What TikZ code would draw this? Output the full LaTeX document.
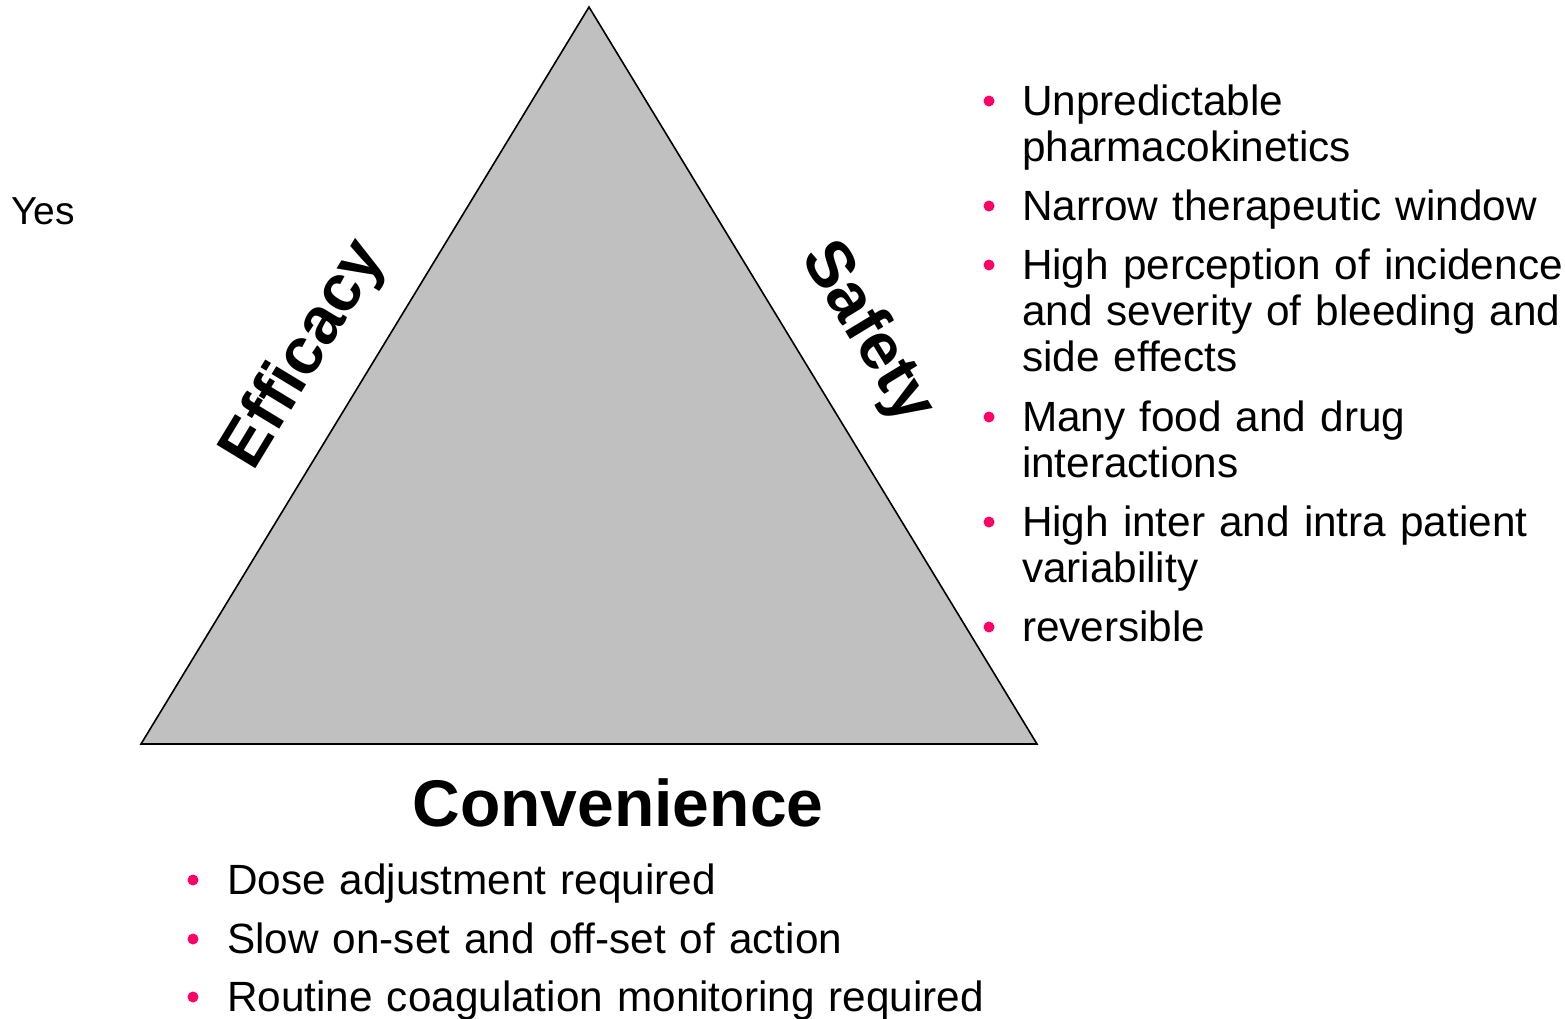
\documentclass[tikz,border=0pt]{standalone}
\usepackage{fontspec}
\setmainfont{Liberation Sans}
\definecolor{trigray}{HTML}{C0C0C0}
\definecolor{bulpink}{HTML}{FF0066}
\begin{document}
\begin{tikzpicture}[x=1pt,y=-1pt,
  item/.style={anchor=base west,inner sep=0pt,outer sep=0pt,text width=800pt,align=left,
    font=\fontsize{42.3}{46}\selectfont},
  sidelabel/.style={inner sep=0pt,font=\fontsize{66}{72}\selectfont\bfseries},
  bul/.style={fill=bulpink}]
\useasboundingbox (0,0) rectangle (1565,1018);
% triangle
\coordinate (top) at (589,7);
\coordinate (bl) at (141,744);
\coordinate (br) at (1037,744);
\draw[fill=trigray,line width=1.6pt,line join=miter] (top) -- (bl) -- (br) -- cycle;
% labels
\node[sidelabel,rotate=58.7] (eff) at (305,355) {Efficacy};
\node[sidelabel,rotate=-58.7] (saf) at (867,333) {Safety};
\node[inner sep=0pt,anchor=base,font=\fontsize{66}{70}\selectfont\bfseries] (conv) at (618,826) {Convenience};
\node[inner sep=0pt,anchor=base west,font=\fontsize{39}{44}\selectfont] (yes) at (11,224) {Yes};
% right list
\node[item] (r1) at (1022,115) {Unpredictable\\pharmacokinetics};
\node[item] (r2) at (1022,220) {Narrow therapeutic window};
\node[item] (r3) at (1022,279) {High perception of incidence\\and severity of bleeding and\\side effects};
\node[item] (r4) at (1022,431) {Many food and drug\\interactions};
\node[item] (r5) at (1022,536) {High inter and intra patient\\variability};
\node[item] (r6) at (1022,641) {reversible};
\foreach \n in {r1,r2,r3,r4,r5,r6}{
  \fill[bul] ([shift={(-33,-14)}]\n.base west) circle (5.5);
}
% bottom list
\node[item] (b1) at (227,894) {Dose adjustment required};
\node[item] (b2) at (227,953) {Slow on-set and off-set of action};
\node[item] (b3) at (227,1011) {Routine coagulation monitoring required};
\foreach \n in {b1,b2,b3}{
  \fill[bul] ([shift={(-34,-14)}]\n.base west) circle (5.5);
}
\end{tikzpicture}
\end{document}
